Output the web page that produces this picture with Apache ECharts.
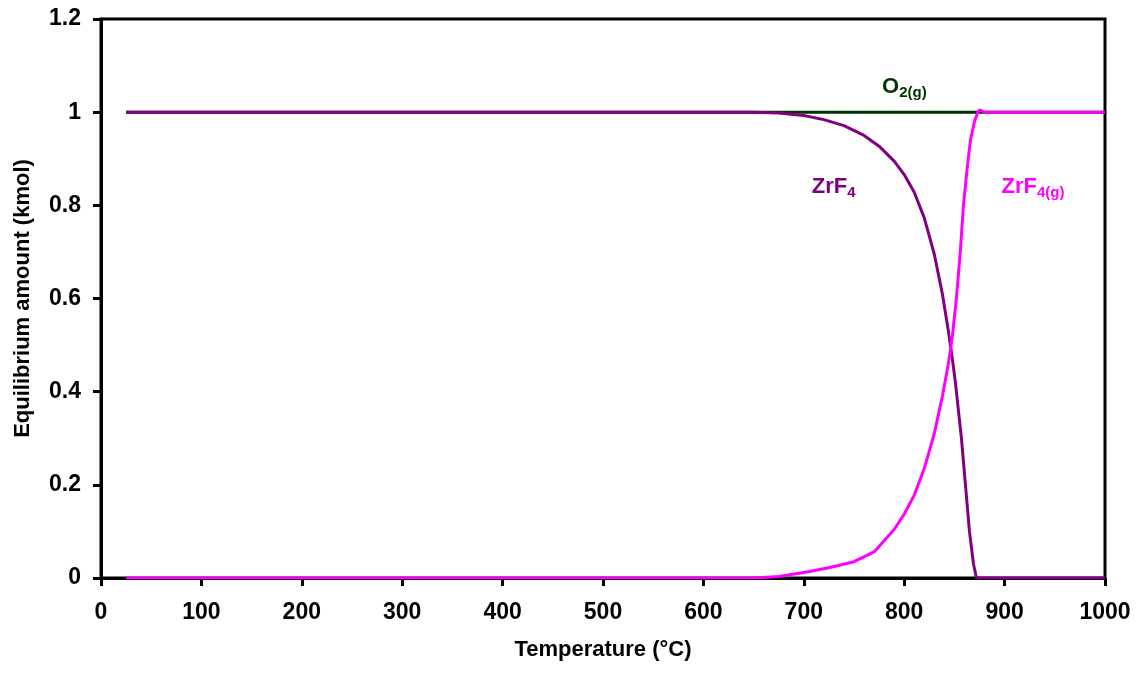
<!DOCTYPE html>
<html>
<head>
<meta charset="utf-8">
<script src="https://cdn.jsdelivr.net/npm/echarts@6/dist/echarts.min.js"></script>
<style>
html,body{margin:0;padding:0;background:#fff;}
#chart{width:1143px;height:673px;}
</style>
</head>
<body>
<div id="chart"></div>
<script>
// Data (temperature in °C, amount in kmol)
const o2T = [25, 875, 1000];
const o2V = [1, 1, 1];

const zrf4T = [25, 650, 675, 700, 720, 740, 760, 775, 790, 800, 810, 820, 830, 838, 844, 848, 851, 854, 857, 861, 865, 869, 872, 1000];
const zrf4V = [1, 1, 0.998, 0.993, 0.984, 0.971, 0.95, 0.927, 0.895, 0.866, 0.828, 0.773, 0.695, 0.61, 0.53, 0.47, 0.42, 0.36, 0.3, 0.2, 0.1, 0.03, 0, 0];

const zrf4gT = [25, 650, 675, 700, 725, 750, 770, 790, 800, 810, 820, 830, 838, 844, 848, 852, 856, 859, 863, 866, 870, 873, 875, 880, 1000];
const zrf4gV = [0, 0, 0.003, 0.012, 0.022, 0.035, 0.056, 0.104, 0.137, 0.178, 0.235, 0.31, 0.39, 0.46, 0.52, 0.6, 0.704, 0.8, 0.885, 0.94, 0.98, 0.998, 1.005, 1, 1];

const xTicks = [0, 100, 200, 300, 400, 500, 600, 700, 800, 900, 1000];
const yTicks = [0, 0.2, 0.4, 0.6, 0.8, 1, 1.2];

// Label anchors [T, amount]
const labels = [
  {main: 'O', sub: '2(g)', color: '#003300', at: [778, 1.054]},
  {main: 'ZrF', sub: '4', color: '#800080', at: [708, 0.839]},
  {main: 'ZrF', sub: '4(g)', color: '#FF00FF', at: [897, 0.839]}
];

const pair = (t, v) => t.map((x, i) => [x, v[i]]);
const FONT = '"Liberation Sans", Arial, sans-serif';

const chart = echarts.init(document.getElementById('chart'), null, {renderer: 'canvas'});
const option = {
  animation: false,
  backgroundColor: '#fff',
  grid: {left: 101, top: 19, right: 38, bottom: 95, show: true, borderColor: '#000', borderWidth: 3, backgroundColor: 'transparent'},
  xAxis: {
    type: 'value', min: 0, max: 1000, interval: 100,
    name: 'Temperature (°C)', nameLocation: 'middle', nameGap: 61,
    nameTextStyle: {fontFamily: FONT, fontWeight: 'bold', fontSize: 22, color: '#000'},
    axisLine: {show: true, lineStyle: {color: '#000', width: 3}},
    axisTick: {show: true, inside: false, length: 8, lineStyle: {color: '#000', width: 3}},
    axisLabel: {margin: 23, fontFamily: FONT, fontWeight: 'bold', fontSize: 23, color: '#000',
      formatter: v => xTicks.includes(v) ? String(v) : ''},
    splitLine: {show: false}
  },
  yAxis: {
    type: 'value', min: 0, max: 1.2, interval: 0.2,
    name: 'Equilibrium amount (kmol)', nameLocation: 'middle', nameGap: 67,
    nameTextStyle: {fontFamily: FONT, fontWeight: 'bold', fontSize: 22, color: '#000'},
    axisLine: {show: true, lineStyle: {color: '#000', width: 3}},
    axisTick: {show: true, inside: false, length: 8, lineStyle: {color: '#000', width: 3}},
    axisLabel: {margin: 20, fontFamily: FONT, fontWeight: 'bold', fontSize: 23, color: '#000',
      formatter: v => {
        const t = yTicks.find(y => Math.abs(y - v) < 1e-9);
        return t === undefined ? '' : String(t);
      }},
    splitLine: {show: false}
  },
  series: [
    {name: 'O2(g)', type: 'line', data: pair(o2T, o2V), showSymbol: false, symbol: 'none',
      lineStyle: {color: '#003300', width: 3}, itemStyle: {color: '#003300'}, z: 2},
    {name: 'ZrF4', type: 'line', data: pair(zrf4T, zrf4V), showSymbol: false, symbol: 'none',
      lineStyle: {color: '#800080', width: 3}, itemStyle: {color: '#800080'}, z: 3},
    {name: 'ZrF4(g)', type: 'line', data: pair(zrf4gT, zrf4gV), showSymbol: false, symbol: 'none',
      lineStyle: {color: '#FF00FF', width: 3}, itemStyle: {color: '#FF00FF'}, z: 4}
  ]
};
chart.setOption(option);

const graphics = labels.map(l => {
  const p = chart.convertToPixel({gridIndex: 0}, l.at);
  return {
    type: 'text', x: p[0], y: p[1], z: 100,
    style: {
      text: '{m|' + l.main + '}{s|' + l.sub + '}',
      x: 0, y: 0, align: 'left', verticalAlign: 'middle',
      rich: {
        m: {fontFamily: FONT, fontWeight: 'bold', fontSize: 22, fill: l.color, lineHeight: 26, verticalAlign: 'middle'},
        s: {fontFamily: FONT, fontWeight: 'bold', fontSize: 15, fill: l.color, lineHeight: 26, verticalAlign: 'bottom', padding: [8, 0, 0, 0]}
      }
    }
  };
});
chart.setOption({graphic: graphics});
</script>
</body>
</html>
